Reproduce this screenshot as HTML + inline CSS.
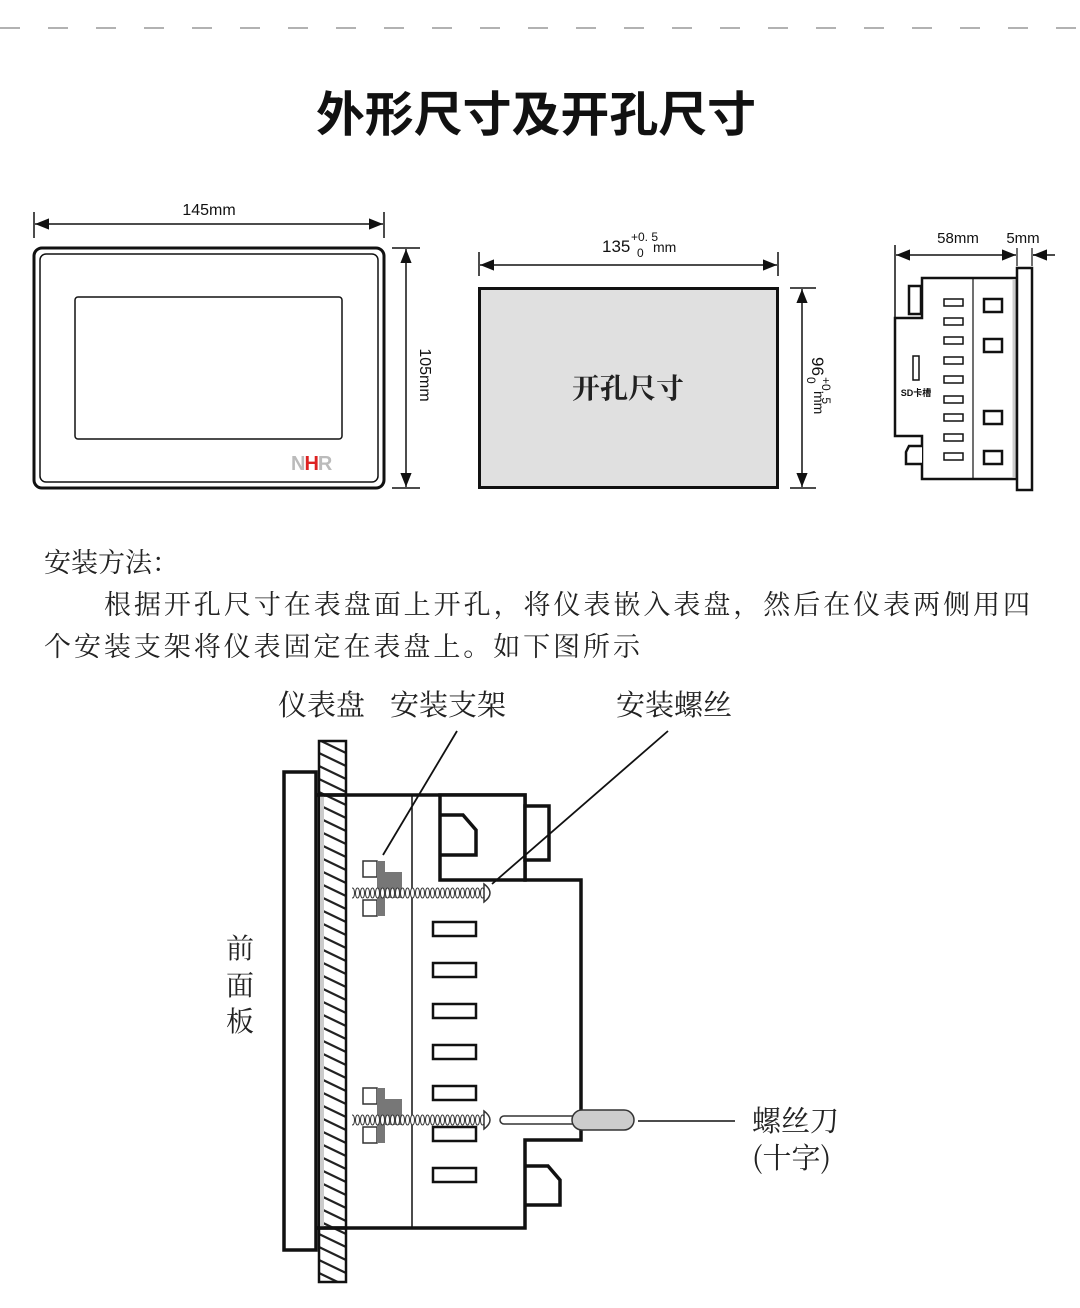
<!DOCTYPE html>
<html><head><meta charset="utf-8"><style>
html,body{margin:0;padding:0;background:#fff;}
svg{display:block;}
.t{font-family:"Liberation Sans","Noto Sans CJK SC",sans-serif;}
.s{font-family:"Noto Serif CJK SC","Liberation Serif",serif;}
</style></head><body>
<svg width="1080" height="1308" viewBox="0 0 1080 1308" xmlns="http://www.w3.org/2000/svg">
<defs>
<marker id="ar" viewBox="0 0 10 10" refX="10" refY="5" markerWidth="14" markerHeight="14" markerUnits="userSpaceOnUse" orient="auto-start-reverse"><path d="M0,1 L10,5 L0,9 z" fill="#111"/></marker>
<pattern id="hatch" width="27" height="13" patternUnits="userSpaceOnUse" x="319" y="741"><path d="M0,-1 L27,12 M0,12 L27,25 M0,-14 L27,-1" stroke="#222" stroke-width="2.2"/></pattern>
<pattern id="coil" width="5" height="14" patternUnits="userSpaceOnUse" y="886"><ellipse cx="2.5" cy="7" rx="2" ry="5" fill="#fff" stroke="#333" stroke-width="1"/></pattern>
<pattern id="coil2" width="5" height="14" patternUnits="userSpaceOnUse" y="1113"><ellipse cx="2.5" cy="7" rx="2" ry="5" fill="#fff" stroke="#333" stroke-width="1"/></pattern>
</defs>
<line x1="0" y1="28" x2="1080" y2="28" stroke="#999" stroke-width="1.5" stroke-dasharray="20,28"/>
<text x="316" y="131" class="t" font-size="48" font-weight="bold" fill="#111" textLength="440" lengthAdjust="spacingAndGlyphs">外形尺寸及开孔尺寸</text>

<!-- front view -->
<line x1="34" y1="212" x2="34" y2="238" stroke="#111" stroke-width="1.5"/>
<line x1="384" y1="212" x2="384" y2="238" stroke="#111" stroke-width="1.5"/>
<line x1="35" y1="224" x2="383" y2="224" stroke="#111" stroke-width="1.5" marker-start="url(#ar)" marker-end="url(#ar)"/>
<text x="209" y="215" text-anchor="middle" class="t" font-size="16" fill="#111">145mm</text>
<rect x="34" y="248" width="350" height="240" rx="8" fill="#fff" stroke="#111" stroke-width="3"/>
<rect x="40" y="254" width="338" height="228" rx="6" fill="none" stroke="#111" stroke-width="1.5"/>
<rect x="75" y="297" width="267" height="142" rx="3" fill="none" stroke="#111" stroke-width="1.5"/>
<text x="291" y="470" class="t" font-size="20" font-weight="bold" fill="#bbb" letter-spacing="-1">N<tspan fill="#d22">H</tspan>R</text>
<line x1="392" y1="248" x2="420" y2="248" stroke="#111" stroke-width="1.5"/>
<line x1="392" y1="488" x2="420" y2="488" stroke="#111" stroke-width="1.5"/>
<line x1="406" y1="249" x2="406" y2="487" stroke="#111" stroke-width="1.5" marker-start="url(#ar)" marker-end="url(#ar)"/>
<text transform="translate(420,375) rotate(90)" text-anchor="middle" class="t" font-size="16" fill="#111">105mm</text>

<!-- cutout -->
<line x1="479" y1="252" x2="479" y2="276" stroke="#111" stroke-width="1.5"/>
<line x1="778" y1="252" x2="778" y2="276" stroke="#111" stroke-width="1.5"/>
<line x1="480" y1="265" x2="777" y2="265" stroke="#111" stroke-width="1.5" marker-start="url(#ar)" marker-end="url(#ar)"/>
<text x="602" y="252" class="t" font-size="17" fill="#111">135</text>
<text x="631" y="241" class="t" font-size="12" fill="#111">+0. 5</text>
<text x="637" y="257" class="t" font-size="12" fill="#111">0</text>
<text x="653" y="252" class="t" font-size="14" fill="#111">mm</text>
<rect x="479.5" y="288.5" width="298" height="199" fill="#e0e0e0" stroke="#111" stroke-width="3"/>
<text x="628" y="398" text-anchor="middle" class="s" font-size="28" font-weight="bold" fill="#222">开孔尺寸</text>
<line x1="790" y1="288" x2="816" y2="288" stroke="#111" stroke-width="1.5"/>
<line x1="790" y1="488" x2="816" y2="488" stroke="#111" stroke-width="1.5"/>
<line x1="802" y1="289" x2="802" y2="487" stroke="#111" stroke-width="1.5" marker-start="url(#ar)" marker-end="url(#ar)"/>
<g transform="translate(812,357) rotate(90)">
<text x="0" y="0" class="t" font-size="17" fill="#111">96</text>
<text x="20" y="-10" class="t" font-size="12" fill="#111">+0. 5</text>
<text x="20" y="5" class="t" font-size="12" fill="#111">0</text>
<text x="34" y="-2" class="t" font-size="14" fill="#111">mm</text>
</g>

<!-- side view -->
<line x1="895" y1="245" x2="895" y2="320" stroke="#111" stroke-width="1.5"/>
<line x1="1017" y1="248" x2="1017" y2="266" stroke="#111" stroke-width="1.2"/>
<line x1="1032" y1="248" x2="1032" y2="266" stroke="#111" stroke-width="1.2"/>
<line x1="896" y1="255" x2="1016" y2="255" stroke="#111" stroke-width="1.5" marker-start="url(#ar)" marker-end="url(#ar)"/>
<line x1="1046" y1="255" x2="1033" y2="255" stroke="#111" stroke-width="1.5" marker-end="url(#ar)"/>
<line x1="1033" y1="255" x2="1055" y2="255" stroke="#111" stroke-width="1.5"/>
<text x="958" y="243" text-anchor="middle" class="t" font-size="15" fill="#111">58mm</text>
<text x="1023" y="243" text-anchor="middle" class="t" font-size="15" fill="#111">5mm</text>
<path d="M922,278 L1017,278 L1017,479 L922,479 L922,436 L895,436 L895,318 L922,318 Z" fill="#fff" stroke="#111" stroke-width="2.5"/>
<line x1="973" y1="278" x2="973" y2="479" stroke="#111" stroke-width="1.2"/>
<line x1="1014" y1="280" x2="1014" y2="477" stroke="#ccc" stroke-width="3"/>
<rect x="1017" y="268" width="15" height="222" fill="#fff" stroke="#111" stroke-width="2.5"/>
<rect x="909" y="286" width="12" height="28" fill="#fff" stroke="#111" stroke-width="2.5"/>
<path d="M922,446 L909,446 L906,452 L906,464 L922,464" fill="#fff" stroke="#111" stroke-width="2.5"/>
<rect x="913" y="356" width="6" height="24" fill="#fff" stroke="#111" stroke-width="1.5"/>
<text x="916" y="396" text-anchor="middle" class="t" font-size="9" font-weight="bold" fill="#111">SD卡槽</text>
<g fill="#fff" stroke="#111" stroke-width="1.5">
<rect x="944" y="299" width="19" height="7"/><rect x="944" y="318" width="19" height="7"/><rect x="944" y="337" width="19" height="7"/><rect x="944" y="357" width="19" height="7"/><rect x="944" y="376" width="19" height="7"/><rect x="944" y="396" width="19" height="7"/><rect x="944" y="414" width="19" height="7"/><rect x="944" y="434" width="19" height="7"/><rect x="944" y="453" width="19" height="7"/>
</g>
<g fill="#fff" stroke="#111" stroke-width="2.5">
<rect x="984" y="299" width="18" height="13"/><rect x="984" y="339" width="18" height="13"/><rect x="984" y="411" width="18" height="13"/><rect x="984" y="451" width="18" height="13"/>
</g>

<!-- text -->
<text x="44" y="572" class="s" font-size="27" fill="#222">安装方法：</text>
<text x="104" y="614" class="s" font-size="27" fill="#222" textLength="926" lengthAdjust="spacing">根据开孔尺寸在表盘面上开孔，将仪表嵌入表盘，然后在仪表两侧用四</text>
<text x="44" y="656" class="s" font-size="27" fill="#222" textLength="596" lengthAdjust="spacing">个安装支架将仪表固定在表盘上。如下图所示</text>

<!-- bottom diagram labels -->
<text x="278" y="715" class="s" font-size="29" fill="#222">仪表盘</text>
<text x="390" y="715" class="s" font-size="29" fill="#222">安装支架</text>
<text x="616" y="715" class="s" font-size="29" fill="#222">安装螺丝</text>
<text x="240" y="958" text-anchor="middle" class="s" font-size="28" fill="#222">前</text>
<text x="240" y="995" text-anchor="middle" class="s" font-size="28" fill="#222">面</text>
<text x="240" y="1031" text-anchor="middle" class="s" font-size="28" fill="#222">板</text>
<text x="752" y="1131" class="s" font-size="29" fill="#222">螺丝刀</text>
<text x="752" y="1168" class="s" font-size="29" fill="#222">(十字)</text>

<!-- body -->
<path d="M316,795 L525,795 L525,880 L581,880 L581,1140 L525,1140 L525,1228 L316,1228" fill="#fff" stroke="#111" stroke-width="3.5"/>
<line x1="412" y1="795" x2="412" y2="1228" stroke="#111" stroke-width="1.5"/>
<rect x="440" y="795" width="85" height="85" fill="#fff" stroke="#111" stroke-width="3.5"/>
<path d="M441,815 L463,815 L476,830 L476,855 L441,855" fill="none" stroke="#111" stroke-width="3.5"/>
<rect x="525" y="806" width="24" height="54" fill="#fff" stroke="#111" stroke-width="3.5"/>
<path d="M525,1166 L548,1166 L560,1180 L560,1205 L525,1205" fill="none" stroke="#111" stroke-width="3.5"/>
<g fill="#fff" stroke="#111" stroke-width="2.5">
<rect x="433" y="922" width="43" height="14"/><rect x="433" y="963" width="43" height="14"/><rect x="433" y="1004" width="43" height="14"/><rect x="433" y="1045" width="43" height="14"/><rect x="433" y="1086" width="43" height="14"/><rect x="433" y="1127" width="43" height="14"/><rect x="433" y="1168" width="43" height="14"/>
</g>
<!-- front panel & hatched panel -->
<rect x="284" y="772" width="32" height="478" fill="#fff" stroke="#111" stroke-width="3.5"/>
<rect x="319" y="741" width="27" height="541" fill="url(#hatch)" stroke="#111" stroke-width="2.5"/>
<line x1="322" y1="795" x2="322" y2="1228" stroke="#ccc" stroke-width="4"/>
<line x1="316" y1="795" x2="346" y2="795" stroke="#111" stroke-width="3.5"/>
<line x1="316" y1="1228" x2="346" y2="1228" stroke="#111" stroke-width="3.5"/>

<!-- brackets & screws -->
<g>
<rect x="363" y="861" width="14" height="16" fill="#fff" stroke="#333" stroke-width="1.5"/>
<rect x="363" y="900" width="14" height="16" fill="#fff" stroke="#333" stroke-width="1.5"/>
<rect x="377" y="861" width="8" height="55" fill="#777"/>
<rect x="385" y="872" width="17" height="26" fill="#777"/>
<rect x="352" y="886" width="132" height="14" fill="url(#coil)"/>
<path d="M484,884 Q496,893 484,902 Z" fill="#fff" stroke="#333" stroke-width="1.5"/>
</g>
<g>
<rect x="363" y="1088" width="14" height="16" fill="#fff" stroke="#333" stroke-width="1.5"/>
<rect x="363" y="1127" width="14" height="16" fill="#fff" stroke="#333" stroke-width="1.5"/>
<rect x="377" y="1088" width="8" height="55" fill="#777"/>
<rect x="385" y="1099" width="17" height="26" fill="#777"/>
<rect x="352" y="1113" width="132" height="14" fill="url(#coil2)"/>
<path d="M484,1111 Q496,1120 484,1129 Z" fill="#fff" stroke="#333" stroke-width="1.5"/>
</g>
<!-- screwdriver -->
<rect x="500" y="1116" width="78" height="8" rx="4" fill="#fff" stroke="#333" stroke-width="1.5"/>
<rect x="572" y="1110" width="62" height="20" rx="10" fill="#ccc" stroke="#333" stroke-width="1.5"/>
<line x1="638" y1="1121" x2="735" y2="1121" stroke="#111" stroke-width="1.5"/>
<!-- leaders -->
<line x1="457" y1="731" x2="383" y2="855" stroke="#111" stroke-width="1.8"/>
<line x1="668" y1="731" x2="492" y2="884" stroke="#111" stroke-width="1.8"/>
</svg>
</body></html>
